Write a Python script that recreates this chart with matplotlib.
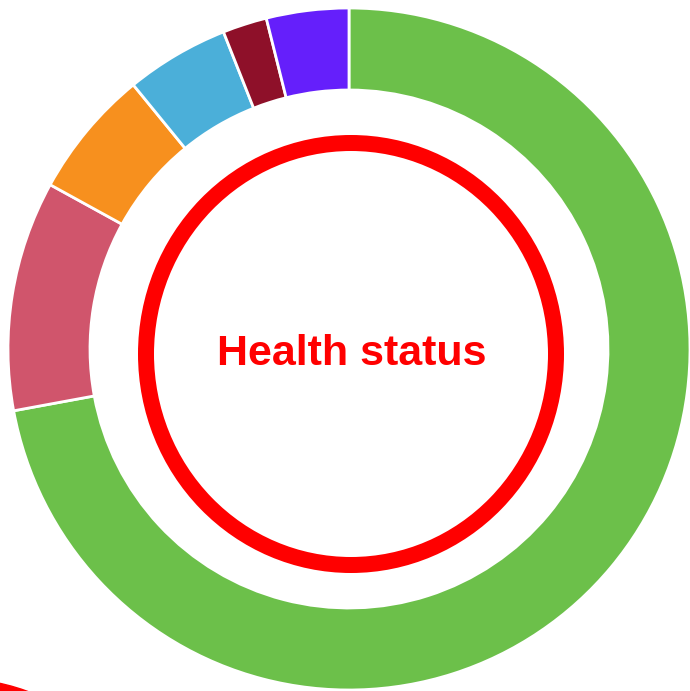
import matplotlib
matplotlib.use("Agg")
import matplotlib.pyplot as plt
from matplotlib.patches import Wedge, Ellipse

# 데이터 (그림에서 읽은 비율, %)
labels = ['Healthy', 'Minor issues', 'Warning', 'Degraded', 'Critical', 'Unknown']
values = [72.1, 10.9, 6.1, 4.9, 2.1, 3.9]
colors = ['#6cc04a', '#d0556c', '#f7901e', '#4bafd9', '#8e1029', '#651ffb']
title = 'Health status'

W, H = 690, 691
fig = plt.figure(figsize=(W / 100, H / 100), dpi=100)
ax = fig.add_axes([0, 0, 1, 1])

cx, cy = 349, H - 349

# 도넛 차트
ax.pie(values, colors=colors, startangle=90, counterclock=False,
       center=(cx, cy), radius=341, frame=True,
       wedgeprops=dict(width=82, edgecolor='white', linewidth=2))
ax.set_xlim(0, W)
ax.set_ylim(0, H)
ax.set_aspect('equal')
ax.axis('off')

# 가운데 빨간 링 (살짝 세로로 긴 타원)
ax.add_patch(Ellipse((351, H - 354), 2 * 205, 2 * 211, fill=False,
                     edgecolor='#ff0000', linewidth=16 * 0.72))
ax.text(352, H - 365, title, ha='center', va='baseline', color='#ff0000',
        fontsize=31, fontweight='bold', family=['Liberation Sans', 'DejaVu Sans'])

# 아래쪽에 잘려 보이는 다음 링
ax.add_patch(Wedge((-45, H - 889.5), 211, 0, 360, width=16, color='#ff0000'))

fig.savefig('out.png', dpi=100)
